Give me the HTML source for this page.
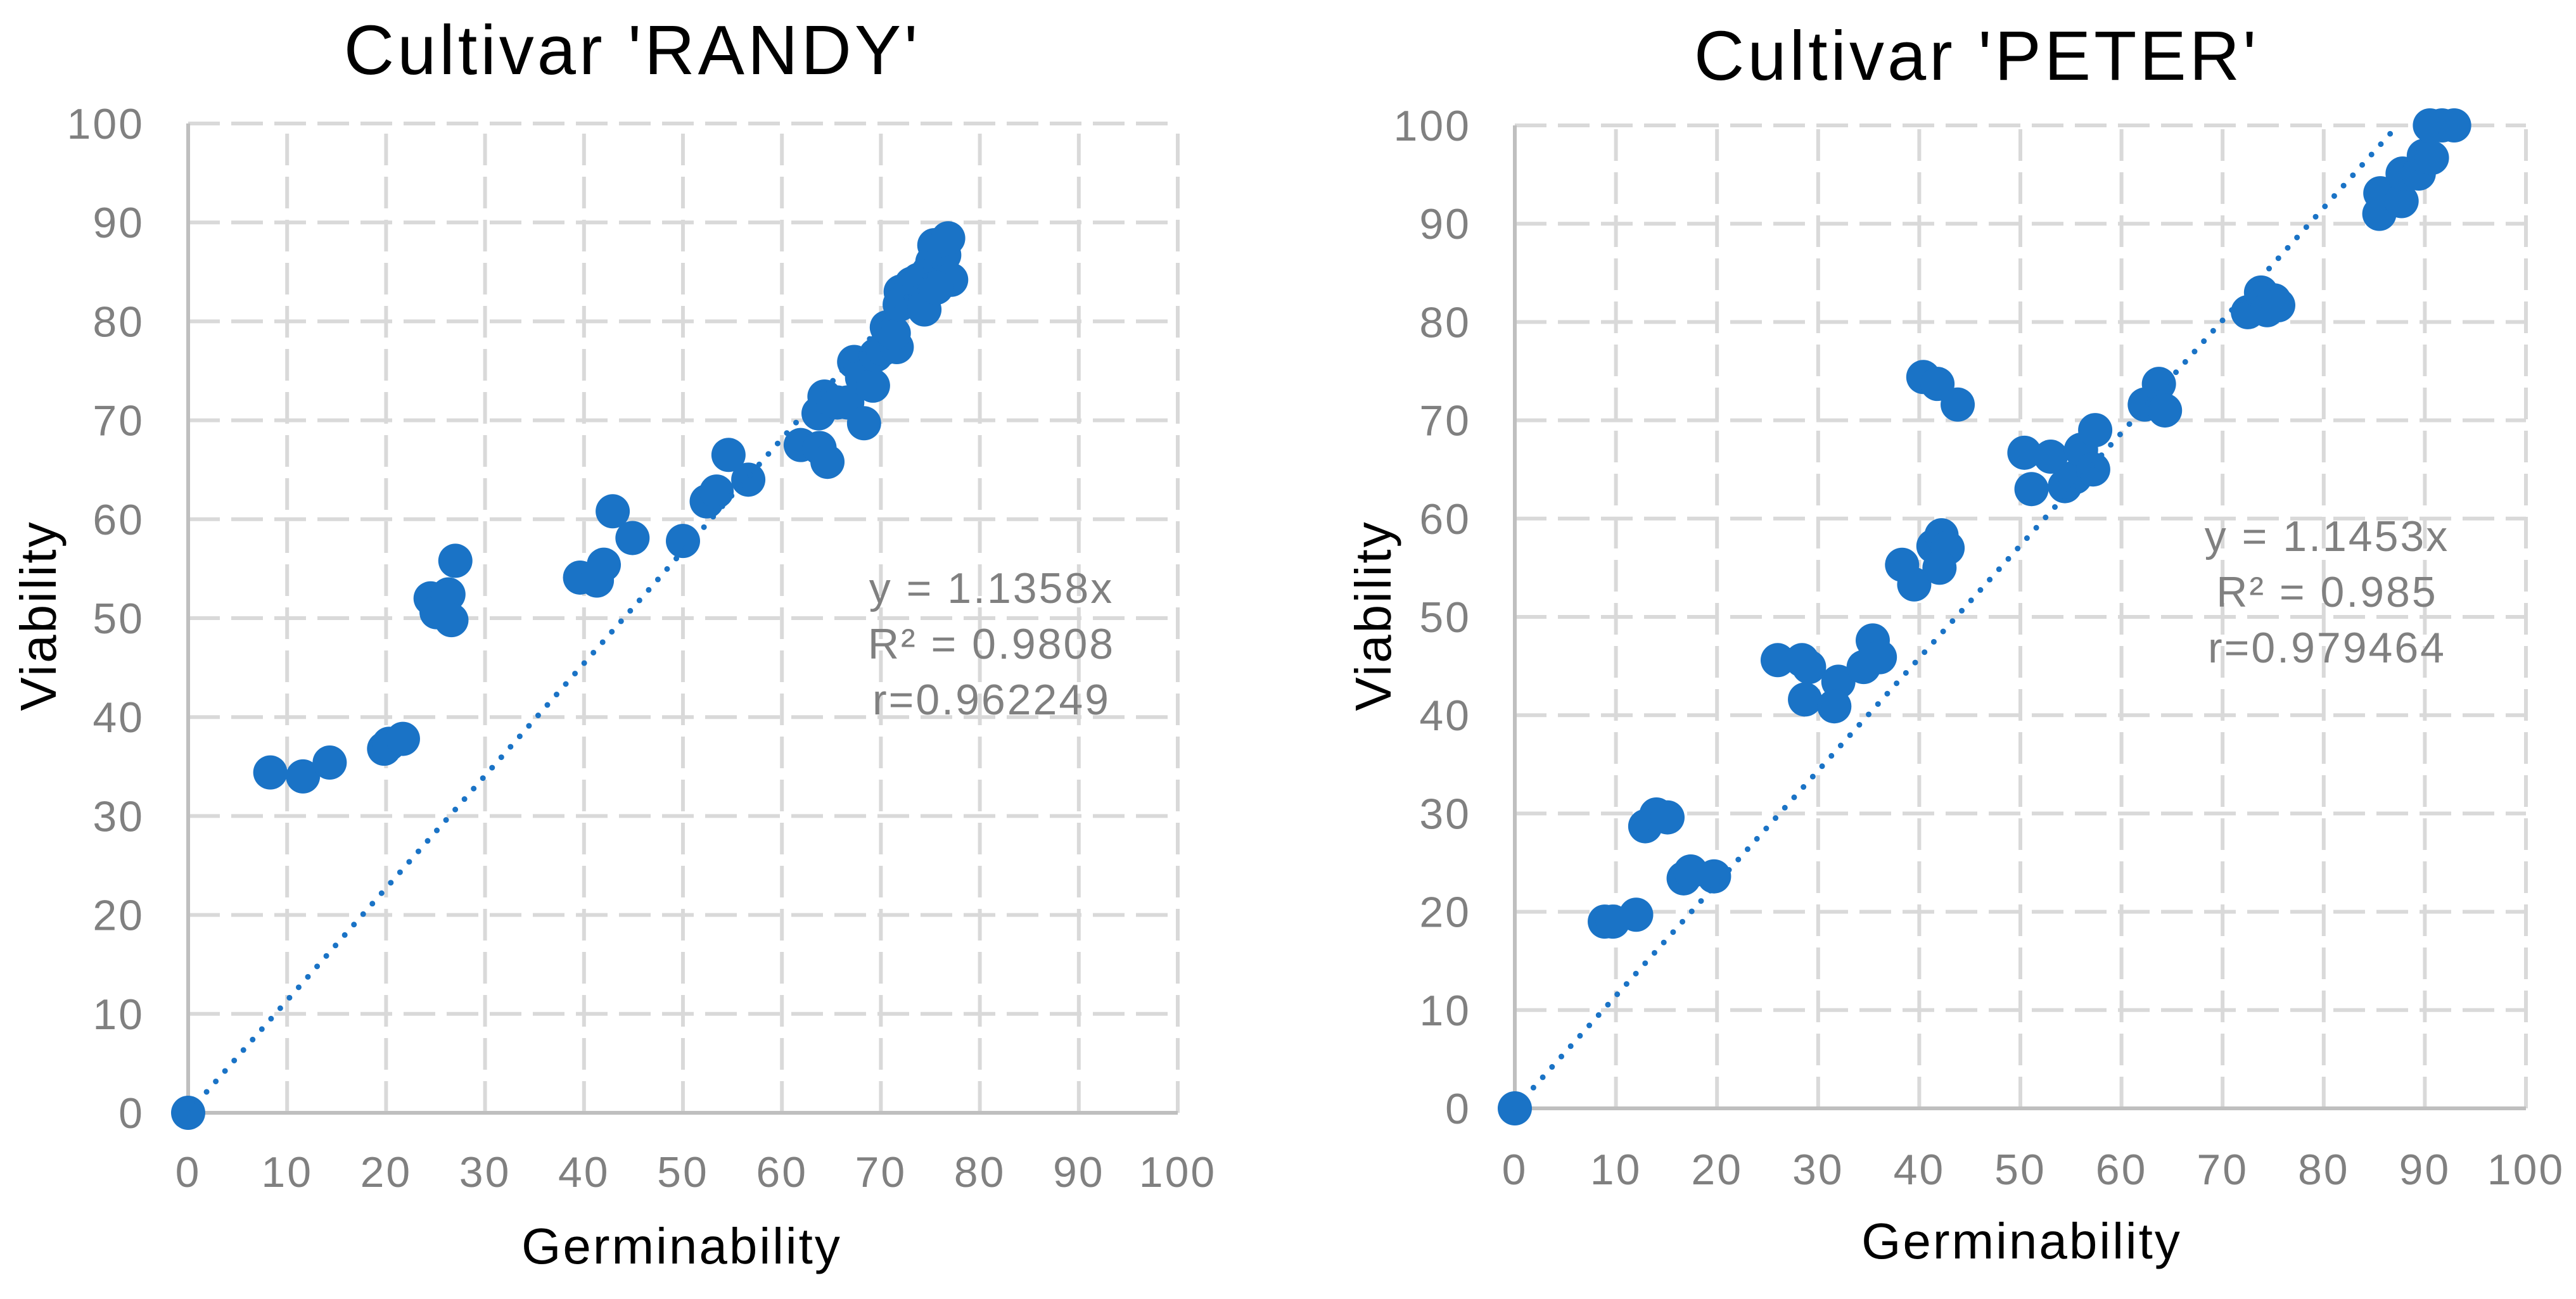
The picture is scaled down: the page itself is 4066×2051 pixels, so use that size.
<!DOCTYPE html>
<html><head><meta charset="utf-8"><style>
html,body{margin:0;padding:0;background:#fff;}
svg{display:block;font-family:"Liberation Sans",sans-serif;}
</style></head><body>
<svg id="chart" width="4066" height="2051" viewBox="0 0 4066 2051" xmlns="http://www.w3.org/2000/svg"></svg>
<script>
const ticks = [0,10,20,30,40,50,60,70,80,90,100];
const tickLabels = ["0","10","20","30","40","50","60","70","80","90","100"];
const randyTitle = "Cultivar 'RANDY'";
const randyX = [0,8.3,11.6,14.3,19.8,20.3,21.7,24.5,25.1,26.3,26.6,27.0,39.6,41.3,42.0,42.9,44.9,50.0,52.4,53.4,54.6,56.6,61.9,63.8,64.6,63.7,64.3,65.6,66.6,67.3,68.1,68.3,69.2,69.5,70.2,70.6,71.6,71.3,72.0,71.9,73.1,73.8,74.4,74.8,75.2,75.4,76.0,76.4,76.8,77.1,75.6];
const randyY = [0,34.4,34.0,35.4,36.8,37.3,37.8,52.0,50.6,52.4,49.8,55.8,54.1,53.8,55.4,60.8,58.1,57.8,61.8,62.8,66.5,64.0,67.5,67.2,65.8,70.7,72.4,71.8,71.8,75.9,74.3,69.7,73.5,76.6,77.2,79.4,77.4,78.8,83.0,81.7,83.8,84.2,81.2,85.0,86.0,87.7,85.5,86.7,88.4,84.2,83.4];
const randySlope = 1.1358;
const randyEq = ["y = 1.1358x","R² = 0.9808","r=0.962249"];
const peterTitle = "Cultivar 'PETER'";
const peterX = [0,8.9,9.7,12.0,12.9,14.0,15.1,16.7,17.4,19.7,26.0,28.4,29.1,28.7,32.0,31.6,34.5,35.4,36.1,38.3,39.5,40.4,41.8,43.8,41.4,42.2,42.8,42.0,50.4,51.1,53.0,54.4,55.4,56.0,57.2,57.4,62.3,63.7,64.3,72.5,73.8,74.4,75.1,75.5,85.5,85.6,87.7,87.8,89.4,89.9,90.7,90.5,91.7,92.9];
const peterY = [0,19.0,19.0,19.7,28.7,29.9,29.6,23.4,24.1,23.6,45.6,45.6,44.9,41.6,43.4,40.9,44.9,47.6,45.9,55.3,53.3,74.4,73.7,71.6,57.2,58.3,57.0,55.0,66.7,63.0,66.3,63.3,64.2,67.0,65.0,69.0,71.6,73.7,71.0,81.0,83.0,81.2,82.2,81.7,91.0,93.1,92.3,95.1,95.1,96.9,96.7,100,100,100];
const peterSlope = 1.1453;
const peterEq = ["y = 1.1453x","R² = 0.985","r=0.979464"];

const svg = document.getElementById('chart');
const NS = "http://www.w3.org/2000/svg";
function mk(tag, attrs, parent){const e=document.createElementNS(NS,tag);for(const k in attrs)e.setAttribute(k,attrs[k]);parent.appendChild(e);return e;}

function drawChart(cfg, xs, ys, slope, eq, title, prefix){
  const g = mk('g',{},svg);
  
  
  const sx = v => cfg.x0 + (cfg.x1-cfg.x0)*v/100;
  const sy = v => cfg.y0 - (cfg.y0-cfg.y1)*v/100;
  ticks.forEach((t,i)=>{
    if(t>0){
      const gl = mk('line',{x1:sx(t),x2:sx(t),y1:sy(0),y2:sy(100),stroke:'#d9d9d9','stroke-width':6,'stroke-dasharray':'50,18'},g);
      
      
      const hl = mk('line',{x1:sx(0),x2:sx(100),y1:sy(t),y2:sy(t),stroke:'#d9d9d9','stroke-width':6,'stroke-dasharray':'50,18'},g);
      
      
    }
    const yl = mk('text',{x:cfg.ylx,y:sy(t)+24,'text-anchor':'end','font-size':68,'letter-spacing':3,fill:'#808080'},g);
    yl.textContent = tickLabels[i];
    
    
    const xl = mk('text',{x:sx(t),y:cfg.xly,'text-anchor':'middle','font-size':68,'letter-spacing':3,fill:'#808080'},g);
    xl.textContent = tickLabels[i];
    
    
  });
  const ya = mk('line',{x1:sx(0),x2:sx(0),y1:sy(0),y2:sy(100),stroke:'#bfbfbf','stroke-width':6},g);
  
  
  const xa = mk('line',{x1:sx(0),x2:sx(100),y1:sy(0),y2:sy(0),stroke:'#bfbfbf','stroke-width':6},g);
  
  
  xs.forEach((x,i)=>{
    const c = mk('circle',{cx:sx(x),cy:sy(ys[i]),r:27,fill:'#1a73c6'},g);
    
    
  });
  const xmax = Math.min(Math.max(...xs), 100/slope);
  const tl = mk('line',{x1:sx(0),y1:sy(0),x2:sx(xmax),y2:sy(slope*xmax),stroke:'#1a73c6','stroke-width':9,'stroke-dasharray':'0,22','stroke-linecap':'round'},g);
  
  
  eq.forEach((s,i)=>{
    const t = mk('text',{x:cfg.eqx,y:cfg.eqy+i*88,'text-anchor':'middle','font-size':68,'letter-spacing':3,fill:'#808080'},g);
    t.textContent = s;
    
    
  });
  const tt = mk('text',{x:cfg.tx,y:cfg.ty,'text-anchor':'middle','font-size':110,'letter-spacing':5,fill:'#000'},g);
  tt.textContent = title;
  
  
  const xt = mk('text',{x:cfg.xtx,y:cfg.xty,'text-anchor':'middle','font-size':80,'letter-spacing':3,fill:'#000'},g);
  xt.textContent = 'Germinability';
  
  
  const yt = mk('text',{x:0,y:0,'text-anchor':'middle','font-size':80,'letter-spacing':3,fill:'#000',transform:`translate(${cfg.ytx},${cfg.yty}) rotate(-90)`},g);
  yt.textContent = 'Viability';
  
  
}

drawChart({x0:297,x1:1859,y0:1757,y1:195,ylx:228,xly:1874,eqx:1565,eqy:952,tx:998,ty:117,xtx:1076,xty:1995,ytx:88,yty:972},
  randyX, randyY, randySlope, randyEq, randyTitle, 'randy');
drawChart({x0:2391,x1:3987,y0:1750,y1:198,ylx:2322,xly:1870,eqx:3673,eqy:870,tx:3120,ty:126,xtx:3191,xty:1987,ytx:2195,yty:972},
  peterX, peterY, peterSlope, peterEq, peterTitle, 'peter');
</script>
</body></html>
